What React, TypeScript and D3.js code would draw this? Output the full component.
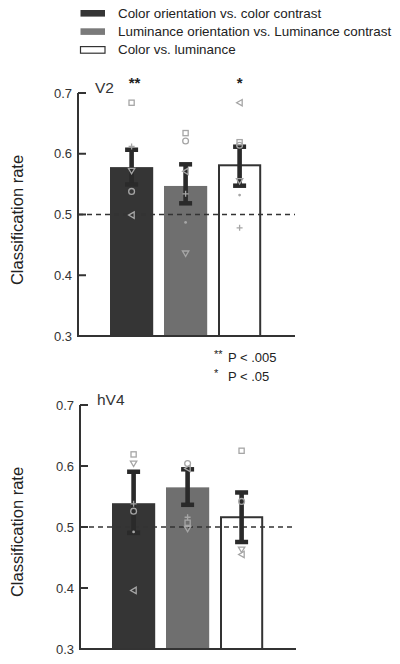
import React from "react";
import * as d3 from "d3";

// ---------- data ----------
const categories = [
  "Color orientation vs. color contrast",
  "Luminance orientation vs. Luminance contrast",
  "Color vs. luminance",
];
const yTicks = [0.3, 0.4, 0.5, 0.6, 0.7];
const chance = 0.5;

const v2Means = [0.578, 0.547, 0.581];
const v2ErrLow = [0.549, 0.518, 0.547];
const v2ErrHigh = [0.607, 0.583, 0.612];
const v2Stars = ["**", "", "*"];

const hv4Means = [0.539, 0.565, 0.516];
const hv4ErrLow = [0.49, 0.536, 0.475];
const hv4ErrHigh = [0.591, 0.595, 0.557];
const hv4Stars = ["", "", ""];

// individual subjects (one marker shape per subject), per category
const markerShapes = ["square", "circle", "downTri", "plus", "leftTri", "dot"];
const v2Subjects: (number | null)[][] = [
  [0.684, 0.634, 0.619], // square
  [0.538, 0.621, 0.614], // circle
  [0.572, 0.436, 0.555], // down triangle
  [0.612, 0.534, 0.478], // plus
  [0.499, 0.571, 0.684], // left triangle
  [null, 0.487, 0.532], // dot
];
const hv4Subjects: (number | null)[][] = [
  [0.619, 0.507, 0.625],
  [0.526, 0.604, 0.542],
  [0.604, 0.497, 0.463],
  [0.538, 0.516, null],
  [0.396, 0.596, 0.455],
  [0.492, null, null],
];

const footnotes = [
  { stars: "**", text: "P < .005" },
  { stars: "*", text: "P < .05" },
];

// ---------- styles ----------
const FONT = "'Liberation Sans', Arial, Helvetica, sans-serif";
const DARK = "#333333";
const barFills = ["#353535", "#6f6f6f", "#ffffff"];
const legendFills = ["#353535", "#7a7a7a", "#ffffff"];
const MARK = "#a6a6a6";

function Marker({ shape, x, y }: { shape: string; x: number; y: number }) {
  const common = { fill: "none", stroke: MARK, strokeWidth: 1.3 };
  switch (shape) {
    case "square":
      return <rect x={x - 2.6} y={y - 2.6} width={5.2} height={5.2} {...common} />;
    case "circle":
      return <circle cx={x} cy={y} r={2.9} {...common} />;
    case "downTri":
      return <path d={`M${x - 3.2},${y - 2.4}L${x + 3.2},${y - 2.4}L${x},${y + 3}Z`} {...common} />;
    case "leftTri":
      return <path d={`M${x + 2.6},${y - 3.2}L${x + 2.6},${y + 3.2}L${x - 3},${y}Z`} {...common} />;
    case "plus":
      return (
        <path d={`M${x - 3},${y}L${x + 3},${y}M${x},${y - 3}L${x},${y + 3}`} {...common} />
      );
    case "dot":
      return <circle cx={x} cy={y} r={1.4} fill={MARK} />;
    default:
      return null;
  }
}

type PanelProps = {
  label: string;
  means: number[];
  lo: number[];
  hi: number[];
  subjects: (number | null)[][];
  stars: string[];
  x0: number;
  xEnd: number;
  yTop: number;
  yBottom: number;
  labelY: number;
};

function Panel(p: PanelProps) {
  const y = d3.scaleLinear().domain([0.3, 0.7]).range([p.yBottom, p.yTop]);
  const x = d3
    .scaleBand<number>()
    .domain(categories.map((_, i) => i))
    .range([p.x0 + 32, p.x0 + 183.2])
    .paddingInner(0.2)
    .paddingOuter(0);
  const bw = x.bandwidth();
  return (
    <g>
      {/* bars */}
      {p.means.map((m, i) => (
        <rect
          key={"b" + i}
          x={x(i)! + (i === 2 ? 1 : 0)}
          y={y(m)}
          width={bw - (i === 2 ? 2 : 0)}
          height={y(0.3) - y(m)}
          fill={barFills[i]}
          stroke={i === 2 ? DARK : "none"}
          strokeWidth={i === 2 ? 2 : 0}
        />
      ))}
      {/* chance line */}
      <line
        x1={p.x0}
        x2={p.xEnd}
        y1={y(chance)}
        y2={y(chance)}
        stroke={DARK}
        strokeWidth={1.6}
        strokeDasharray="5,4"
      />
      {/* error bars */}
      {p.means.map((_, i) => {
        const cx = x(i)! + bw / 2;
        return (
          <g key={"e" + i} fill="#2a2a2a">
            <rect x={cx - 2.3} y={y(p.hi[i])} width={4.6} height={y(p.lo[i]) - y(p.hi[i])} />
            <rect x={cx - 6.5} y={y(p.hi[i]) - 2} width={13} height={4.5} />
            <rect x={cx - 6.5} y={y(p.lo[i]) - 2.5} width={13} height={4.5} />
          </g>
        );
      })}
      {/* subjects */}
      {p.subjects.map((row, s) =>
        row.map((v, i) =>
          v == null ? null : (
            <Marker key={`m${s}-${i}`} shape={markerShapes[s]} x={x(i)! + bw / 2} y={y(v)} />
          )
        )
      )}
      {/* axes */}
      <line x1={p.x0} x2={p.x0} y1={p.yTop} y2={p.yBottom + 1} stroke={DARK} strokeWidth={2} />
      <line x1={p.x0 - 1} x2={p.xEnd} y1={p.yBottom} y2={p.yBottom} stroke={DARK} strokeWidth={2} />
      {yTicks.map((t) => (
        <g key={"t" + t}>
          <line x1={p.x0} x2={p.x0 + 8} y1={y(t)} y2={y(t)} stroke={DARK} strokeWidth={2} />
          <text
            x={p.x0 - 6}
            y={y(t)}
            dy="0.36em"
            textAnchor="end"
            fontSize={13}
            fontFamily={FONT}
            fill={DARK}
          >
            {d3.format(".1f")(t)}
          </text>
        </g>
      ))}
      {/* panel label */}
      <text x={p.x0 + 17} y={p.yTop - 0.5} fontSize={15.5} fontFamily={FONT} fill={DARK}>
        {p.label}
      </text>
      {/* stars */}
      {p.stars.map((s, i) =>
        s ? (
          <text
            key={"s" + i}
            x={x(i)! + bw / 2 + (s.length > 1 ? 3 : 0)}
            y={p.yTop - 5}
            textAnchor="middle"
            fontSize={15}
            fontWeight="bold"
            fontFamily={FONT}
            fill="#222"
          >
            {s}
          </text>
        ) : null
      )}
      {/* y label */}
      <text
        transform={`translate(23,${p.labelY}) rotate(-90)`}
        textAnchor="middle"
        fontSize={16.5}
        fontFamily={FONT}
        fill="#222"
      >
        Classification rate
      </text>
    </g>
  );
}

export default function App() {
  return (
    <svg
      width={400}
      height={664}
      style={{ position: "absolute", left: 0, top: 0, background: "#fff" }}
    >
      {/* legend */}
      {categories.map((c, i) => (
        <g key={"l" + i}>
          <rect
            x={80.5}
            y={10 + i * 18.3}
            width={24.5}
            height={6.6}
            fill={legendFills[i]}
            stroke={i === 2 ? DARK : "none"}
            strokeWidth={1.2}
          />
          <text x={118} y={17.6 + i * 18.3} fontSize={13.4} fontFamily={FONT} fill="#222">
            {c}
          </text>
        </g>
      ))}
      <Panel
        label="V2"
        means={v2Means}
        lo={v2ErrLow}
        hi={v2ErrHigh}
        subjects={v2Subjects}
        stars={v2Stars}
        x0={78}
        xEnd={295}
        yTop={93}
        yBottom={336}
        labelY={220}
      />
      {footnotes.map((f, i) => (
        <g key={"f" + i}>
          <text x={214} y={358 + i * 19} fontSize={11} fontFamily={FONT} fill="#222">
            {f.stars}
          </text>
          <text x={228} y={361.5 + i * 19} fontSize={13} fontFamily={FONT} fill="#222">
            {f.text}
          </text>
        </g>
      ))}
      <Panel
        label="hV4"
        means={hv4Means}
        lo={hv4ErrLow}
        hi={hv4ErrHigh}
        subjects={hv4Subjects}
        stars={hv4Stars}
        x0={80}
        xEnd={296}
        yTop={405}
        yBottom={649}
        labelY={532}
      />
    </svg>
  );
}
